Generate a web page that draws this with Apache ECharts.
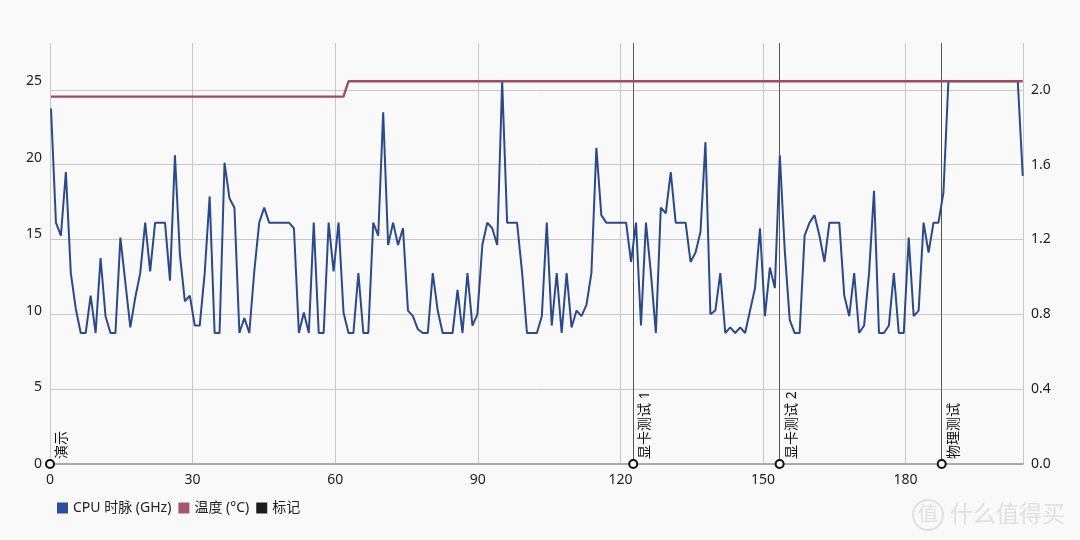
<!DOCTYPE html>
<html>
<head>
<meta charset="utf-8">
<script src="https://cdn.jsdelivr.net/npm/echarts@6/dist/echarts.min.js"></script>
<style>
html,body{margin:0;padding:0;background:#f9f9f9;}
#chart{width:1080px;height:540px;}
</style>
</head>
<body>
<div id="chart"></div>
<script>
// CPU clock (GHz), one value per sample
const cpuClock = [
  1.90,1.29,1.22,1.56,1.02,0.83,0.70,0.70,0.90,0.70,
  1.10,0.79,0.70,0.70,1.21,0.97,0.73,0.89,1.02,1.29,
  1.03,1.29,1.29,1.29,0.98,1.65,1.12,0.87,0.90,0.74,
  0.74,1.02,1.43,0.70,0.70,1.61,1.42,1.37,0.70,0.78,
  0.70,1.03,1.29,1.37,1.29,1.29,1.29,1.29,1.29,1.26,
  0.70,0.81,0.70,1.29,0.70,0.70,1.29,1.03,1.29,0.81,
  0.70,0.70,1.02,0.70,0.70,1.29,1.22,1.88,1.17,1.29,
  1.17,1.26,0.82,0.79,0.72,0.70,0.70,1.02,0.82,0.70,
  0.70,0.70,0.93,0.70,1.02,0.74,0.80,1.17,1.29,1.26,
  1.17,2.045,1.29,1.29,1.29,1.03,0.70,0.70,0.70,0.79,
  1.29,0.74,1.02,0.70,1.02,0.73,0.82,0.79,0.85,1.02,
  1.69,1.33,1.29,1.29,1.29,1.29,1.29,1.08,1.29,0.74,
  1.29,1.02,0.70,1.37,1.34,1.56,1.29,1.29,1.29,1.08,
  1.13,1.24,1.72,0.80,0.82,1.02,0.70,0.73,0.70,0.73,
  0.70,0.82,0.94,1.26,0.79,1.05,0.94,1.65,1.14,0.77,
  0.70,0.70,1.22,1.29,1.33,1.22,1.08,1.29,1.29,1.29,
  0.90,0.79,1.02,0.70,0.74,1.02,1.46,0.70,0.70,0.74,
  1.02,0.70,0.70,1.21,0.79,0.82,1.29,1.13,1.29,1.29,
  1.45,2.045,2.045,2.045,2.045,2.045,2.045,2.045,2.045,2.045,
  2.045,2.045,2.045,2.045,2.045,2.045,1.54
];
// Temperature (°C), one value per sample
const temperature = [
  24,24,24,24,24,24,24,24,24,24,24,24,24,24,24,24,24,24,24,24,
  24,24,24,24,24,24,24,24,24,24,24,24,24,24,24,24,24,24,24,24,
  24,24,24,24,24,24,24,24,24,24,24,24,24,24,24,24,24,24,24,24,
  25,25,25,25,25,25,25,25,25,25,25,25,25,25,25,25,25,25,25,25,
  25,25,25,25,25,25,25,25,25,25,25,25,25,25,25,25,25,25,25,25,
  25,25,25,25,25,25,25,25,25,25,25,25,25,25,25,25,25,25,25,25,
  25,25,25,25,25,25,25,25,25,25,25,25,25,25,25,25,25,25,25,25,
  25,25,25,25,25,25,25,25,25,25,25,25,25,25,25,25,25,25,25,25,
  25,25,25,25,25,25,25,25,25,25,25,25,25,25,25,25,25,25,25,25,
  25,25,25,25,25,25,25,25,25,25,25,25,25,25,25,25,25
];
// Event markers (time in seconds)
const markerTimes = [0, 122.7, 153.5, 187.6];
const markerNames = ['演示', '显卡测试 1', '显卡测试 2', '物理测试'];
const legendNames = ['CPU 时脉 (GHz)', '温度 (°C)', '标记'];

const FONT = '"Noto Sans", "Noto Sans CJK SC", sans-serif';
const chart = echarts.init(document.getElementById('chart'));

const cpuData = cpuClock.map((v, i) => [i, v]);
const tempData = temperature.map((v, i) => [i, v]);
const markerData = markerTimes.map((t, i) => ({ value: [t, 0], name: markerNames[i] }));
const markerLines = markerTimes.filter(t => t > 0).map(t => ({ xAxis: t }));

chart.setOption({
  animation: false,
  backgroundColor: '#f9f9f9',
  textStyle: { fontFamily: FONT },
  grid: { left: 50, right: 57, top: 43, bottom: 76 },
  legend: {
    data: [
      { name: legendNames[0], itemStyle: { color: '#2a4fa0', opacity: 1 } },
      { name: legendNames[1], itemStyle: { color: '#a5566b', opacity: 1 } },
      { name: legendNames[2], itemStyle: { color: '#1c1c1c', borderWidth: 0, opacity: 1 } }
    ],
    left: 52, top: 496,
    icon: 'rect', itemWidth: 11, itemHeight: 11, itemGap: 7,
    textStyle: { fontSize: 14, color: '#222', fontFamily: FONT }
  },
  xAxis: [
    {
      type: 'value', min: 0, max: 204.7, interval: 30,
      axisLine: { show: true, lineStyle: { color: '#aaa', width: 2 } },
      axisTick: { show: false },
      axisLabel: {
        color: '#222', fontSize: 14, margin: 9, showMaxLabel: false,
        formatter: v => (v % 30 === 0 ? String(v) : '')
      },
      splitLine: { show: true, lineStyle: { color: '#c8c8c8', width: 1 } }
    },
    {
      type: 'value', min: -0.2, max: 196.05, show: false,
      splitLine: { show: false }
    }
  ],
  yAxis: [
    {
      type: 'value', min: 0, max: 27.5, interval: 5, position: 'left',
      axisLine: { show: false }, axisTick: { show: false },
      axisLabel: {
        color: '#222', fontSize: 14, margin: 8, showMaxLabel: false,
        formatter: v => (v % 5 === 0 ? String(v) : '')
      },
      splitLine: { show: false }
    },
    {
      type: 'value', min: 0, max: 2.25, interval: 0.4, position: 'right',
      axisLine: { show: false }, axisTick: { show: false },
      axisLabel: {
        color: '#222', fontSize: 14, margin: 8, showMaxLabel: false,
        formatter: v => (Math.abs(v / 0.4 - Math.round(v / 0.4)) < 1e-6 ? v.toFixed(1) : '')
      },
      splitLine: {
        show: true,
        lineStyle: { color: ['#c8c8c8','#c8c8c8','#c8c8c8','#c8c8c8','#c8c8c8','#c8c8c8','rgba(0,0,0,0)'], width: 1 }
      }
    }
  ],
  series: [
    {
      name: legendNames[0], type: 'line', xAxisIndex: 1, yAxisIndex: 1,
      data: cpuData, showSymbol: false, symbol: 'none',
      color: '#2a4fa0',
      lineStyle: { color: '#2b4a8c', width: 2 }, z: 3
    },
    {
      name: legendNames[1], type: 'line', xAxisIndex: 1, yAxisIndex: 0,
      data: tempData, showSymbol: false, symbol: 'none',
      color: '#a5566b',
      lineStyle: { color: '#9c4d62', width: 2.4 }, z: 4
    },
    {
      name: legendNames[2], type: 'scatter', xAxisIndex: 0, yAxisIndex: 0,
      data: markerData, symbol: 'circle', symbolSize: 8, clip: false,
      color: '#1c1c1c',
      itemStyle: { color: '#fafafa', borderColor: '#111', borderWidth: 2, opacity: 1 },
      z: 6,
      label: {
        show: true, formatter: p => p.name,
        position: [17, 0], align: 'left', verticalAlign: 'middle',
        rotate: 90, fontSize: 14, color: '#111', fontFamily: FONT,
        textBorderWidth: 0, opacity: 1
      },
      markLine: {
        silent: true, symbol: ['none', 'none'],
        label: { show: false },
        lineStyle: { color: '#555', width: 1, type: 'solid', opacity: 1 },
        data: markerLines, z: 2
      }
    }
  ],
  graphic: [
    {
      type: 'circle', shape: { cx: 928, cy: 515, r: 15 },
      style: { fill: 'rgba(0,0,0,0)', stroke: '#e0e0e0', lineWidth: 2 }, silent: true
    },
    {
      type: 'text', x: 928, y: 515,
      style: { text: '值', fill: '#e0e0e0', fontSize: 20, align: 'center', verticalAlign: 'middle', fontFamily: FONT }, silent: true
    },
    {
      type: 'text', x: 950, y: 515,
      style: { text: '什么值得买', fill: '#e0e0e0', fontSize: 23, align: 'left', verticalAlign: 'middle', fontFamily: FONT }, silent: true
    }
  ]
});
</script>
</body>
</html>
